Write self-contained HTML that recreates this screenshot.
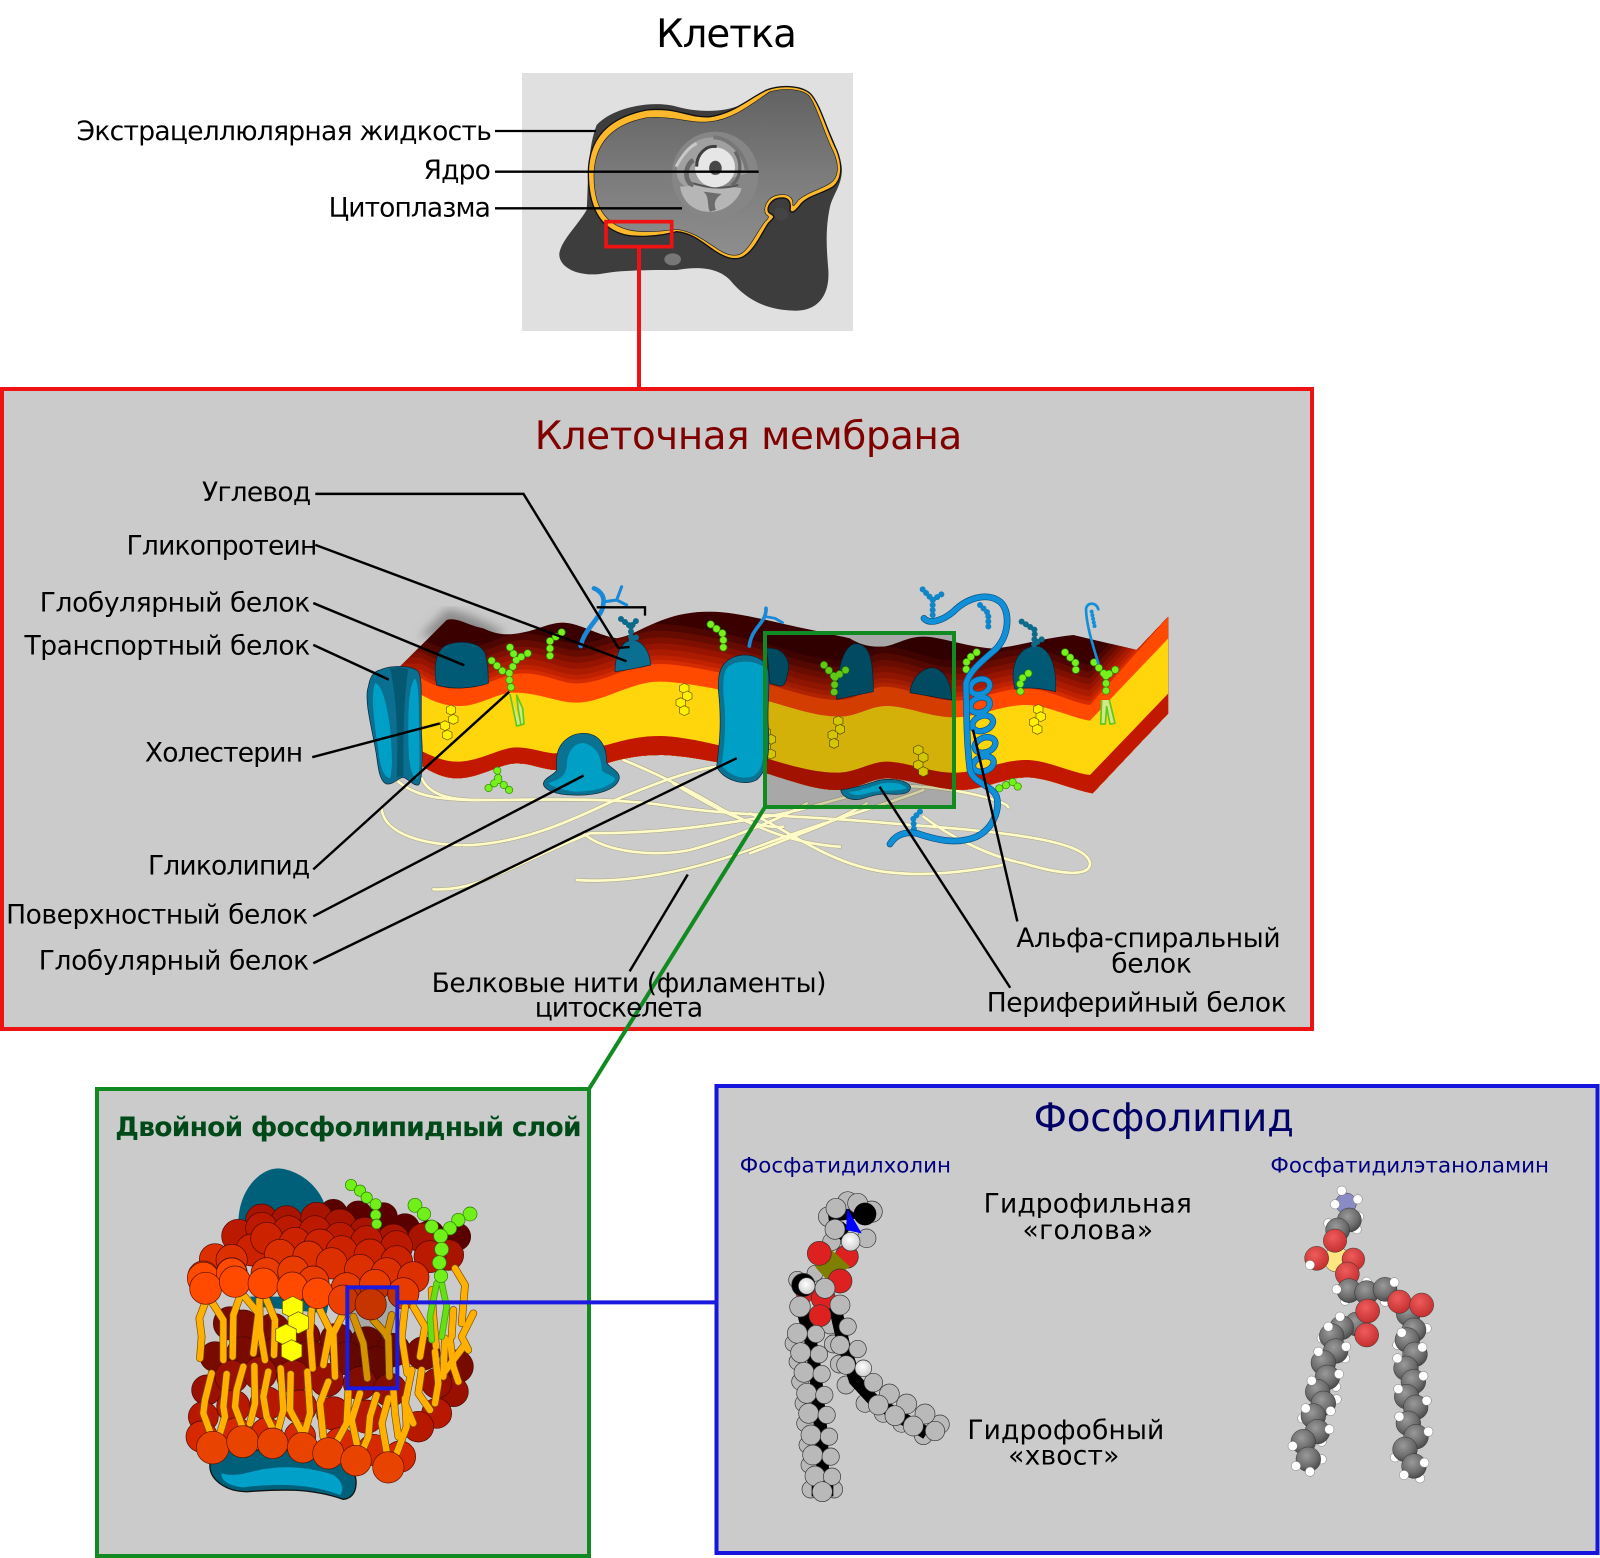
<!DOCTYPE html>
<html lang="ru"><head><meta charset="utf-8"><title>Клетка</title>
<style>
html,body{margin:0;padding:0;background:#fff}
svg{display:block}
text{font-family:"DejaVu Sans","Liberation Sans",sans-serif;fill:#000}
.l{font-size:26px}
.ln{stroke:#000;stroke-width:2.4;fill:none}
.d{fill:none;stroke-linecap:round}
</style></head><body>
<svg xmlns="http://www.w3.org/2000/svg" width="1600" height="1558" viewBox="0 0 1600 1558">
<defs>
<linearGradient id="cy" x1="0" y1="0" x2="0" y2="1"><stop offset="0" stop-color="#626262"/><stop offset=".55" stop-color="#7d7d7d"/><stop offset="1" stop-color="#8e8e8e"/></linearGradient>
<radialGradient id="cg" cx=".42" cy=".35" r=".7"><stop offset="0" stop-color="#9a9a9a"/><stop offset=".6" stop-color="#6e6e6e"/><stop offset="1" stop-color="#444"/></radialGradient>
<radialGradient id="cr" cx=".42" cy=".35" r=".7"><stop offset="0" stop-color="#ee5c5c"/><stop offset="1" stop-color="#c22c2c"/></radialGradient>
<radialGradient id="cw" cx=".45" cy=".4" r=".65"><stop offset="0" stop-color="#fff"/><stop offset="1" stop-color="#c8c8c8"/></radialGradient>
<filter id="bl"><feGaussianBlur stdDeviation="14"/></filter>
<polygon id="hx" points="0,-15 14,-8 14,8 0,15 -14,8 -14,-8"/>
<path id="pO" d="M245,325 C290,355 330,358 370,355 C440,350 490,310 550,310 C620,310 670,345 720,340 C800,335 870,282 960,282 C1040,282 1200,320 1290,345 C1360,365 1430,390 1500,390 C1550,390 1590,350 1630,350 C1700,350 1770,392 1840,392 C1920,392 1980,355 2060,355 C2120,355 2200,400 2250,405 L2485,140 L2485,1000 L120,1000 L120,325Z"/>
<clipPath id="cTop"><path d="M180,290 L320,150 C350,140 380,165 430,175 C460,190 490,195 520,192 C590,185 620,158 670,158 C720,160 770,195 830,205 C900,195 960,125 1110,125 C1200,125 1330,165 1440,185 C1480,195 1510,200 1530,205 C1570,230 1600,230 1630,230 C1670,225 1700,200 1750,200 C1800,200 1880,230 1950,235 C2000,238 2100,205 2200,195 L2390,240 L2485,140 L2485,1000 L180,1000Z"/></clipPath>
<clipPath id="cBot"><path d="M170,560 L248,590 C290,615 320,625 350,625 C420,625 480,580 530,580 C570,580 600,595 640,600 C680,600 750,590 800,580 C850,565 900,555 960,555 C1040,555 1180,585 1280,610 C1360,635 1430,660 1490,660 C1550,660 1590,625 1640,625 C1700,625 1790,660 1870,660 C1940,655 2000,622 2060,622 C2120,622 2200,660 2258,670 L2485,430 L2485,0 L170,0Z"/></clipPath>
<g id="gl" class="d" stroke-dasharray="0 22">
<path d="M510,232 L530,268 L505,315 L513,352"/><path d="M455,272 L500,315"/><path d="M563,250 L530,268"/>
<path d="M665,187 L630,213 L630,265"/><path d="M1112,163 L1150,192 L1150,238"/>
<path d="M472,602 L475,630 L438,660"/><path d="M475,630 L513,665"/>
<path d="M1452,285 L1485,322 L1520,298"/><path d="M1485,322 L1482,375"/>
<path d="M1910,247 L1880,270 L1878,315"/><path d="M2065,310 L2040,330 L2042,380"/>
<path d="M2175,247 L2208,280 L2207,318"/><path d="M2262,277 L2298,318 L2342,288"/><path d="M2298,318 L2298,378"/>
<path d="M1978,655 L2020,635 L2047,665"/>
</g>
<g id="fil" fill="none" stroke-linecap="round">
<path d="M175,635 C230,680 300,690 420,690 C600,690 820,680 1000,710 C1200,740 1400,735 1650,760 C1900,780 2240,800 2250,880 C2250,925 2150,910 2050,880 C1950,860 1830,800 1750,740"/>
<path d="M245,625 C270,680 340,690 420,690"/>
<path d="M125,715 C130,790 250,830 400,825 C600,810 750,720 850,680 C950,640 1050,600 1130,590"/>
<path d="M850,570 C950,610 1050,660 1150,720 C1250,770 1350,820 1500,830"/>
<path d="M280,958 C420,965 520,880 750,790 C950,790 1100,770 1280,740 C1400,720 1500,680 1650,650 C1800,640 2000,690 2005,712"/>
<path d="M710,930 C850,940 1050,910 1280,820 C1500,740 1650,700 1750,660"/>
<path d="M730,790 C800,850 950,860 1050,840 C1200,800 1350,730 1400,700"/>
<path d="M1230,730 C1330,770 1460,880 1630,905 C1780,925 1930,895 1990,885"/>
<path d="M1230,850 C1330,810 1480,760 1580,700"/>
<path d="M1000,640 C1100,700 1230,780 1330,770"/>
</g>
<g id="tl" fill="none" stroke-linecap="round" stroke-linejoin="round">
<path d="M135,460 L118,505 L125,560 L120,625"/><path d="M155,455 L190,510 L190,630"/><path d="M238,445 L220,495 L218,620"/><path d="M250,435 L295,490 L280,610"/><path d="M298,450 L300,540 L315,630"/><path d="M320,450 L345,510 L342,615"/>
<path d="M455,480 L450,550 L458,655"/><path d="M480,480 L510,540 L490,645"/><path d="M545,500 L520,550 L525,680"/><path d="M580,500 L610,580 L622,685"/><path d="M640,510 L685,560 L688,680"/><path d="M695,495 L680,560"/>
<path d="M735,470 L725,560 L742,670"/><path d="M760,470 L795,530 L780,620"/><path d="M815,420 L820,500 L828,590"/><path d="M885,355 L915,405 L905,520"/><path d="M880,480 L875,560"/><path d="M940,490 L905,560 L925,600"/>
<path d="M155,670 L135,750 L130,790 L150,845"/><path d="M200,672 L190,770 L195,800 L180,850"/><path d="M250,650 L230,720 L225,770 L245,825"/><path d="M283,648 L285,760 L270,820"/><path d="M325,665 L310,740 L320,800 L335,830"/><path d="M362,655 L370,780 L355,835"/><path d="M392,672 L390,780 L425,845"/><path d="M442,665 L450,790 L435,845"/><path d="M505,695 L480,760 L490,860"/><path d="M565,725 L560,820 L530,875"/><path d="M600,730 L575,810 L590,880"/><path d="M650,735 L630,800 L625,860 L610,895"/><path d="M685,745 L665,820 L680,905"/><path d="M700,720 L705,790 L715,860"/><path d="M735,745 L740,830 L710,910"/><path d="M755,660 L735,760 L760,820"/><path d="M785,660 L775,730 L810,780"/><path d="M825,605 L835,700 L825,760"/><path d="M855,565 L850,680"/><path d="M910,590 L850,670"/><path d="M870,570 L880,650 L895,695"/>
</g>
</defs>
<rect width="1600" height="1558" fill="#fff"/>

<!-- top cell -->
<rect x="522" y="73" width="331" height="258" fill="#e0e0e0"/>
<g transform="translate(480,50) scale(.33333)">
<path d="M350,225 C400,170 520,150 590,170 C660,190 740,185 780,165 C820,145 860,115 920,112 C980,110 1000,130 1020,180 C1050,250 1080,310 1085,350 C1090,400 1060,430 1050,470 C1035,540 1040,600 1045,660 C1050,740 1010,785 940,782 C850,780 790,740 750,690 C710,650 650,650 590,660 C500,660 420,660 360,672 C290,680 235,650 238,610 C245,570 290,530 320,480 C325,420 320,300 350,225Z" fill="#3d3d3d"/>
<path d="M325,370 C325,280 370,205 500,180 C590,170 630,205 690,200 C760,190 800,150 860,120 C900,105 960,105 990,130 C1020,160 1040,240 1070,300 C1090,350 1085,390 1060,410 C1030,430 990,435 965,460 C950,480 935,495 930,480 C935,450 920,440 895,445 C870,450 855,480 870,490 C890,500 880,505 865,520 C845,550 825,600 790,620 C760,635 730,620 700,600 C670,580 640,550 590,545 C540,560 460,565 420,550 C360,530 325,470 325,370Z" fill="#fdb92b" stroke="#111" stroke-width="4"/>
<path d="M342,370 C345,290 385,225 500,203 C590,198 630,222 690,215 C760,208 810,165 870,125 C910,115 960,115 985,135 C1010,165 1030,245 1060,305 C1080,350 1075,385 1050,400 C1020,420 985,425 955,450 C945,465 940,470 938,465 C942,440 920,430 895,435 C860,440 845,480 860,495 C870,500 865,505 855,515 C835,540 810,595 785,610 C760,625 730,610 705,592 C670,570 640,545 590,538 C540,545 470,550 430,535 C375,515 340,470 342,370Z" fill="url(#cy)" stroke="#222" stroke-width="2"/>
<circle cx="705" cy="375" r="130" fill="#868686"/>
<path d="M590,370 C590,310 640,260 700,262 C760,265 800,310 800,370 L640,420 C610,410 592,395 590,370Z" fill="#a0a0a0"/>
<path d="M600,410 C610,470 660,490 700,485 C740,480 775,450 785,415 C740,405 650,405 600,410Z" fill="#b6b6b6"/>
<path d="M670,425 C690,440 680,470 690,485 L708,480 C700,460 705,445 725,432Z" fill="#6c6c6c"/>
<path d="M640,400 C670,410 720,420 775,405" fill="none" stroke="#555" stroke-width="6"/>
<path d="M640,330 C610,350 615,400 640,405" fill="none" stroke="#6a6a6a" stroke-width="14"/>
<path d="M700,262 C740,262 790,300 800,360" fill="none" stroke="#777" stroke-width="12"/>
<path d="M765,305 C790,340 780,390 755,405" fill="none" stroke="#666" stroke-width="10"/>
<path d="M588,350 C610,310 630,290 650,280" fill="none" stroke="#c8c8c8" stroke-width="9"/>
<circle cx="705" cy="352" r="60" fill="#e6e6e6"/>
<path d="M650,350 C650,310 680,285 710,290" fill="none" stroke="#3e3e3e" stroke-width="9"/>
<path d="M688,350 C690,335 705,328 715,335 C730,345 728,370 712,374 C695,378 685,365 688,350Z" fill="#484848"/>
<ellipse cx="578" cy="628" rx="25" ry="18" fill="#777"/>
<path d="M885,480 C900,465 925,475 925,500 C915,515 895,515 885,500Z" fill="#444"/>
<path d="M45,243 H348 M45,365 H836 M45,475 H606" stroke="#000" stroke-width="7" fill="none"/>
<rect x="378" y="515" width="197" height="75" fill="none" stroke="#ee1212" stroke-width="11"/>
</g>
<path d="M639,247 V389" stroke="#ee1212" stroke-width="4" fill="none"/>

<!-- panels -->
<rect x="2" y="389" width="1310" height="640" fill="#cbcbcb" stroke="#ee1212" stroke-width="4"/>
<rect x="97" y="1089" width="492" height="467" fill="#cbcbcb" stroke="#118a22" stroke-width="4"/>
<rect x="716.5" y="1086" width="881" height="467" fill="#cbcbcb" stroke="#1515dd" stroke-width="4"/>

<!-- membrane -->
<g transform="translate(340,570) scale(.33333)">
<path d="M320,118 L240,200 L440,210 L500,190 C440,160 380,125 320,118Z" fill="#8a8a8a" filter="url(#bl)"/>
<use href="#fil" stroke="#a8a680" stroke-width="11"/>
<use href="#fil" stroke="#fffbc8" stroke-width="8"/>
<g clip-path="url(#cBot)">
<g clip-path="url(#cTop)">
<rect x="120" y="100" width="2370" height="700" fill="#3a0000"/>
<use href="#pO" y="-120" fill="#4d0600"/><use href="#pO" y="-100" fill="#650b00"/><use href="#pO" y="-80" fill="#7f1000"/><use href="#pO" y="-62" fill="#971500"/><use href="#pO" y="-44" fill="#ab1b00"/><use href="#pO" y="-26" fill="#c02200"/><use href="#pO" y="-12" fill="#d42b00"/>
<use href="#pO" fill="#ff4a00"/>
</g>
<path d="M245,375 C290,400 320,408 360,408 C420,408 470,368 520,368 C600,368 650,398 710,398 C790,398 870,335 960,335 C1040,335 1200,370 1290,395 C1360,415 1430,440 1500,440 C1550,440 1590,408 1640,408 C1700,408 1770,442 1840,442 C1920,442 1980,405 2060,405 C2120,405 2200,445 2250,452 L2485,205 L2485,1000 L245,1000Z" fill="#ffd50c"/>
<path d="M248,545 C290,565 320,575 350,575 C420,575 480,532 530,532 C570,532 600,545 640,550 C680,550 750,535 800,525 C850,510 900,498 960,498 C1040,498 1180,535 1280,565 C1360,590 1430,608 1490,608 C1550,608 1590,575 1640,575 C1700,575 1770,608 1840,608 C1920,608 1980,570 2060,570 C2120,570 2200,610 2250,615 L2485,370 L2485,1000 L248,1000Z" fill="#c21800"/>
</g>
<!-- embedded dark proteins -->
<g fill="#005a76" stroke="#123" stroke-width="2">
<path d="M290,345 C280,300 285,240 320,225 C360,210 420,215 435,250 C445,280 445,320 445,340 C400,355 340,360 290,345Z"/>
<path d="M825,305 C825,260 840,215 875,210 C910,210 930,250 932,285 C890,295 860,300 825,305Z" fill="#0b6f91"/>
<path d="M1280,235 C1330,230 1350,270 1345,300 C1340,330 1335,350 1320,348 L1290,340Z"/>
<path d="M1490,388 C1490,330 1500,240 1540,222 C1590,215 1600,270 1600,365Z"/>
<path d="M1710,368 C1715,320 1750,292 1780,293 C1815,300 1835,340 1835,390Z"/>
<path d="M2025,358 C2010,300 2025,240 2080,228 C2130,225 2150,290 2147,365 C2110,355 2060,350 2025,358Z"/>
</g>
<!-- cholesterol -->
<g fill="#fff000" stroke="#665500" stroke-width="2">
<use href="#hx" x="333" y="420"/><use href="#hx" x="340" y="448"/><use href="#hx" x="315" y="467"/><use href="#hx" x="322" y="495"/>
<use href="#hx" x="1033" y="355"/><use href="#hx" x="1042" y="378"/><use href="#hx" x="1022" y="398"/><use href="#hx" x="1033" y="422"/>
<use href="#hx" x="1278" y="487"/><use href="#hx" x="1293" y="508"/><use href="#hx" x="1278" y="530"/><use href="#hx" x="1292" y="552"/>
<use href="#hx" x="1495" y="453"/><use href="#hx" x="1500" y="478"/><use href="#hx" x="1478" y="495"/><use href="#hx" x="1482" y="520"/>
<use href="#hx" x="1735" y="540"/><use href="#hx" x="1750" y="562"/><use href="#hx" x="1735" y="585"/><use href="#hx" x="1750" y="605"/>
<use href="#hx" x="2095" y="418"/><use href="#hx" x="2102" y="440"/><use href="#hx" x="2082" y="457"/><use href="#hx" x="2092" y="478"/>
</g>
<!-- green glycans -->
<g fill="#cfe88a" stroke="#5fc81a" stroke-width="5" stroke-linejoin="round">
<path d="M510,372 L520,420 L530,468 L543,465 L535,420 L530,375 L548,415 L552,462 L543,465"/>
<path d="M2285,390 L2282,462 L2296,462 L2300,410 L2310,462 L2325,460 L2308,390"/>
</g>
<use href="#gl" stroke="#2a8a00" stroke-width="24"/>
<use href="#gl" stroke="#78f01c" stroke-width="20"/>
<!-- box darkening -->
<rect x="1275" y="189" width="567" height="522" fill="#000" opacity=".17"/>
<!-- teal glycans -->
<g stroke="#0e6a8a" stroke-width="18" stroke-dasharray="0 15" class="d">
<path d="M843,147 L873,170 L895,145"/><path d="M873,170 L873,212 L900,195"/>
<path d="M2045,155 L2085,180 L2082,225"/><path d="M2105,208 L2082,222"/>
</g>
<!-- left channel -->
<path d="M120,300 C150,285 215,285 235,305 C250,330 240,400 245,500 C250,570 245,640 235,645 C220,648 210,630 190,622 C170,625 160,645 140,642 C120,635 115,600 110,560 C100,490 70,390 85,350 C90,320 100,305 120,300Z" fill="#0a6f90" stroke="#123" stroke-width="2"/>
<path d="M105,340 C125,340 140,400 150,470 C155,540 160,590 150,625 C130,620 120,590 115,540 C105,470 90,380 105,340Z" fill="#00a0c6"/>
<path d="M225,325 C240,345 235,430 238,510 C240,570 238,620 232,628 C215,620 205,590 205,500 C205,420 205,350 225,325Z" fill="#00a0c6"/>
<path d="M150,295 C170,290 190,292 205,298 C190,380 190,520 190,620 L170,622 C175,500 170,380 150,295Z" fill="#055872"/>
<!-- bump protein -->
<path d="M650,570 C650,520 690,490 730,490 C780,490 800,530 800,575 C800,590 840,600 838,625 C830,660 770,678 700,675 C650,675 610,660 610,640 C615,620 645,615 650,600Z" fill="#0a7393" stroke="#123" stroke-width="2"/>
<path d="M680,590 C680,550 700,515 735,520 C770,530 785,560 785,600 C795,615 825,615 825,630 C800,655 760,665 700,665 C670,660 640,650 625,640 C650,630 675,625 680,590Z" fill="#009fc5"/>
<!-- big protein -->
<path d="M1150,285 C1180,245 1250,245 1280,285 C1295,320 1280,400 1285,470 C1290,540 1285,600 1250,630 C1210,650 1150,630 1130,590 C1140,510 1145,450 1135,360 C1135,330 1135,305 1150,285Z" fill="#0a7393" stroke="#123" stroke-width="2"/>
<path d="M1165,290 C1190,270 1240,270 1270,290 C1280,350 1265,430 1272,500 C1272,560 1270,600 1240,618 C1205,632 1165,615 1145,585 C1155,510 1160,450 1150,370 C1150,330 1150,305 1165,290Z" fill="#00a0c6"/>
<!-- peripheral -->
<path d="M1502,660 C1540,655 1570,645 1620,630 C1660,625 1700,630 1712,650 C1712,670 1690,675 1650,672 C1610,670 1590,680 1560,688 C1530,692 1505,680 1502,660Z" fill="#0a7393" stroke="#123" stroke-width="2"/>
<path d="M1525,665 C1560,665 1590,650 1625,640 C1660,635 1690,640 1700,655 C1670,665 1620,660 1590,668 C1560,678 1535,678 1525,665Z" fill="#009fc5"/>
<!-- blue chains -->
<g fill="none" stroke-linecap="round" stroke="#1888d8">
<g stroke-width="14"><path d="M722,228 C735,170 790,140 790,100 C795,75 775,60 762,55"/></g>
<g stroke-width="9"><path d="M795,95 L830,90 L845,50 M830,90 L860,105"/></g>
<g stroke-width="11"><path d="M1228,228 C1235,170 1280,160 1278,115"/></g>
<g stroke-width="8"><path d="M1278,140 L1305,145 L1328,158"/></g>
</g>
<g stroke="#1085c8" stroke-width="18" stroke-dasharray="0 15" class="d">
<path d="M1748,58 L1778,90 L1812,68"/><path d="M1778,90 L1778,140"/>
<path d="M1920,105 L1945,130 L1945,170"/>
<path d="M1740,725 L1720,745 L1722,780"/>
</g>
<!-- helix -->
<g fill="none" stroke-linecap="round">
<g stroke="#0a4f80" stroke-width="19">
<ellipse cx="1930" cy="582" rx="32" ry="22" transform="rotate(-20 1930 582)"/>
<ellipse cx="1935" cy="525" rx="32" ry="22" transform="rotate(-20 1935 525)"/>
<ellipse cx="1928" cy="460" rx="32" ry="22" transform="rotate(-20 1928 460)"/>
<ellipse cx="1920" cy="405" rx="30" ry="22" transform="rotate(-20 1920 405)"/>
<ellipse cx="1920" cy="350" rx="30" ry="22" transform="rotate(-20 1920 350)"/>
</g>
<g stroke="#0f90d8" stroke-width="15">
<ellipse cx="1930" cy="582" rx="32" ry="22" transform="rotate(-20 1930 582)"/>
<ellipse cx="1935" cy="525" rx="32" ry="22" transform="rotate(-20 1935 525)"/>
<ellipse cx="1928" cy="460" rx="32" ry="22" transform="rotate(-20 1928 460)"/>
<ellipse cx="1920" cy="405" rx="30" ry="22" transform="rotate(-20 1920 405)"/>
<ellipse cx="1920" cy="350" rx="30" ry="22" transform="rotate(-20 1920 350)"/>
</g>
<g stroke="#0a4f80" stroke-width="20">
<path d="M1650,822 C1670,790 1700,785 1730,790 C1790,810 1850,825 1910,800 C1960,775 1980,720 1970,680 C1955,645 1900,640 1890,600 C1880,520 1880,440 1878,340 C1890,300 1930,270 1970,235 C2010,190 2010,120 1980,95 C1940,65 1880,85 1840,125 C1810,150 1770,165 1752,145"/>
</g>
<g stroke="#0f90d8" stroke-width="16">
<path d="M1650,822 C1670,790 1700,785 1730,790 C1790,810 1850,825 1910,800 C1960,775 1980,720 1970,680 C1955,645 1900,640 1890,600 C1880,520 1880,440 1878,340 C1890,300 1930,270 1970,235 C2010,190 2010,120 1980,95 C1940,65 1880,85 1840,125 C1810,150 1770,165 1752,145"/>
</g>
<path d="M2275,280 C2260,230 2240,170 2238,120 C2238,95 2270,95 2275,118" stroke="#0f90d8" stroke-width="8"/>
<path d="M2255,125 L2265,175" stroke="#0f90d8" stroke-width="12" stroke-dasharray="0 11"/>
</g>
<rect x="1275" y="189" width="567" height="522" fill="none" stroke="#118a22" stroke-width="12"/>
<path d="M1275,711 L747,1557" stroke="#118a22" stroke-width="12" fill="none"/>
<path d="M770,112 H915 V137" stroke="#000" stroke-width="7" fill="none"/>
</g>

<!-- bilayer -->
<g transform="translate(160,1150) scale(.33333)" stroke="#4a0800" stroke-width="2">
<path d="M235,220 C235,120 300,55 355,55 C430,60 500,130 500,200 L500,300 L235,300Z" fill="#00607a" stroke="none"/>
<g fill="#5a0000"><circle cx="520" cy="190" r="42"/><circle cx="595" cy="195" r="42"/><circle cx="670" cy="200" r="42"/><circle cx="735" cy="235" r="44"/><circle cx="810" cy="255" r="44"/><circle cx="890" cy="260" r="42"/></g>
<g fill="#a81400"><circle cx="305" cy="210" r="48"/><circle cx="380" cy="215" r="48"/><circle cx="470" cy="205" r="48"/><circle cx="540" cy="225" r="48"/><circle cx="615" cy="250" r="48"/><circle cx="700" cy="270" r="48"/><circle cx="790" cy="265" r="46"/><circle cx="865" cy="315" r="46"/></g>
<g fill="#bb1a00"><circle cx="235" cy="258" r="50"/><circle cx="305" cy="235" r="48"/><circle cx="385" cy="245" r="48"/><circle cx="465" cy="245" r="48"/><circle cx="540" cy="265" r="48"/><circle cx="620" cy="275" r="48"/><circle cx="710" cy="290" r="48"/><circle cx="810" cy="320" r="48"/></g>
<g fill="#cc2200"><circle cx="275" cy="300" r="48"/><circle cx="320" cy="265" r="48"/><circle cx="405" cy="280" r="48"/><circle cx="480" cy="285" r="48"/><circle cx="545" cy="305" r="48"/><circle cx="630" cy="315" r="48"/><circle cx="710" cy="335" r="48"/></g>
<g fill="#dd3000"><circle cx="165" cy="328" r="47"/><circle cx="215" cy="330" r="47"/><circle cx="360" cy="315" r="47"/><circle cx="445" cy="320" r="47"/><circle cx="515" cy="340" r="47"/><circle cx="600" cy="360" r="47"/><circle cx="680" cy="370" r="47"/><circle cx="760" cy="382" r="47"/></g>
<g fill="#e83c00"><circle cx="130" cy="380" r="47"/><circle cx="215" cy="370" r="47"/><circle cx="320" cy="370" r="47"/><circle cx="400" cy="365" r="47"/><circle cx="460" cy="395" r="47"/><circle cx="560" cy="415" r="47"/><circle cx="645" cy="405" r="47"/><circle cx="730" cy="430" r="47"/></g>
<!-- back lower -->
<g fill="#780a00"><circle cx="210" cy="520" r="50"/><circle cx="250" cy="530" r="50"/><circle cx="340" cy="540" r="50"/><circle cx="430" cy="560" r="50"/><circle cx="530" cy="570" r="50"/><circle cx="620" cy="580" r="50"/><circle cx="700" cy="600" r="50"/><circle cx="790" cy="610" r="50"/><circle cx="890" cy="650" r="50"/><circle cx="165" cy="620" r="45"/><circle cx="250" cy="610" r="50"/><circle cx="350" cy="610" r="50"/><circle cx="450" cy="620" r="50"/><circle cx="560" cy="625" r="50"/><circle cx="650" cy="640" r="50"/></g>
<g fill="#9a1000"><circle cx="140" cy="720" r="45"/><circle cx="215" cy="680" r="50"/><circle cx="300" cy="670" r="50"/><circle cx="400" cy="680" r="50"/><circle cx="500" cy="690" r="50"/><circle cx="600" cy="700" r="50"/><circle cx="690" cy="720" r="50"/><circle cx="880" cy="725" r="45"/><circle cx="830" cy="700" r="45"/></g>
<g fill="#b81800"><circle cx="130" cy="800" r="45"/><circle cx="220" cy="770" r="50"/><circle cx="320" cy="760" r="50"/><circle cx="420" cy="770" r="50"/><circle cx="520" cy="790" r="50"/><circle cx="620" cy="800" r="50"/><circle cx="830" cy="790" r="45"/><circle cx="775" cy="830" r="46"/></g>
<g fill="#d82800"><circle cx="125" cy="860" r="47"/><circle cx="230" cy="850" r="47"/><circle cx="320" cy="850" r="47"/><circle cx="420" cy="860" r="47"/><circle cx="540" cy="880" r="47"/><circle cx="640" cy="900" r="47"/><circle cx="720" cy="920" r="47"/></g>
<path d="M150,940 C145,990 200,1025 260,1025 C340,1020 440,1010 550,1048 C580,1045 590,1020 588,990 C585,950 500,900 400,900 L150,900Z" fill="#00607a" stroke="#111" stroke-width="4"/>
<path d="M185,970 C240,985 270,960 330,955 C400,945 480,960 520,975 C545,990 555,1020 540,1035 C450,1000 340,1000 250,1012 C210,1010 180,990 185,970Z" fill="#00a0c8" stroke="none"/>
<path d="M270,440 L510,440 L500,490 L290,470Z" fill="#00607a" stroke="none"/>
<use href="#tl" stroke="#7a4a00" stroke-width="23"/>
<use href="#tl" stroke="#ffb000" stroke-width="19"/>
<path d="M830,400 L810,500 L815,570 M845,400 L860,470 L845,560" fill="none" stroke="#4aa010" stroke-width="20" stroke-linecap="round"/>
<path d="M830,400 L810,500 L815,570 M845,400 L860,470 L845,560" fill="none" stroke="#66e011" stroke-width="15" stroke-linecap="round"/>
<g fill="#ff4a00" stroke="#5a1000"><circle cx="130" cy="385" r="48"/><circle cx="215" cy="370" r="46"/><circle cx="137" cy="415" r="48"/><circle cx="225" cy="395" r="47"/><circle cx="310" cy="400" r="46"/><circle cx="397" cy="412" r="46"/><circle cx="473" cy="430" r="46"/></g>
<circle cx="550" cy="450" r="45" fill="#ee4000" stroke="#5a1000"/>
<g fill="#ffff00" stroke="#665500" stroke-width="1">
<use href="#hx" transform="translate(398,472) scale(2.2)"/><use href="#hx" transform="translate(415,518) scale(2.2)"/><use href="#hx" transform="translate(378,555) scale(2.2)"/><use href="#hx" transform="translate(395,602) scale(2.2)"/>
</g>
<g fill="#e84400" stroke="#5a1000"><circle cx="158" cy="893" r="49"/><circle cx="248" cy="875" r="48"/><circle cx="338" cy="880" r="46"/><circle cx="428" cy="893" r="46"/><circle cx="505" cy="910" r="47"/><circle cx="588" cy="932" r="46"/><circle cx="685" cy="952" r="47"/></g>
<circle cx="632" cy="463" r="47" fill="#ee4000" stroke="#5a1000"/>
<g fill="#70f018" stroke="#2a7a00">
<circle cx="573" cy="105" r="17"/><circle cx="600" cy="122" r="17"/><circle cx="620" cy="143" r="17"/><circle cx="647" cy="163" r="17"/><circle cx="647" cy="195" r="16"/><circle cx="650" cy="222" r="15"/>
<circle cx="765" cy="166" r="21"/><circle cx="792" cy="192" r="20"/><circle cx="815" cy="230" r="20"/><circle cx="930" cy="192" r="21"/><circle cx="895" cy="210" r="20"/><circle cx="870" cy="235" r="20"/><circle cx="842" cy="258" r="21"/><circle cx="845" cy="298" r="21"/><circle cx="838" cy="338" r="21"/><circle cx="843" cy="378" r="20"/>
</g>
<rect x="562" y="412" width="150" height="303" fill="#000" opacity=".17" stroke="none"/>
<rect x="562" y="412" width="150" height="303" fill="none" stroke="#1a1ae0" stroke-width="12"/>
<path d="M712,457 H1672" stroke="#1a1ae0" stroke-width="12"/>
</g>

<!-- molecule 1 -->
<g transform="translate(760,1170) scale(.33333)" stroke="#333" stroke-width="2" fill="#b9b9b9">
<g><circle cx="100" cy="520" r="25"/><circle cx="112" cy="575" r="25"/><circle cx="120" cy="635" r="25"/><circle cx="130" cy="700" r="25"/><circle cx="135" cy="760" r="25"/><circle cx="142" cy="825" r="25"/><circle cx="148" cy="885" r="25"/><circle cx="152" cy="958" r="26"/><circle cx="222" cy="958" r="26"/><circle cx="220" cy="522" r="27"/><circle cx="238" cy="582" r="27"/><circle cx="258" cy="645" r="27"/><circle cx="315" cy="700" r="27"/><circle cx="370" cy="730" r="27"/><circle cx="425" cy="760" r="27"/><circle cx="490" cy="797" r="27"/><circle cx="540" cy="763" r="28"/><circle cx="205" cy="140" r="30"/><circle cx="263" cy="95" r="30"/><circle cx="335" cy="125" r="32"/><circle cx="320" cy="205" r="28"/><circle cx="215" cy="215" r="27"/><circle cx="165" cy="310" r="24"/><circle cx="112" cy="330" r="26"/><circle cx="210" cy="465" r="27"/></g>
<path d="M130,430 L150,500 L165,600 L175,700 L185,800 L190,960 M225,410 L250,520 L285,630 L340,690 L500,790 M155,960 L220,960" fill="none" stroke="#000" stroke-width="38"/>
<path d="M205,140 L290,130 M230,200 L260,165" fill="none" stroke="#000" stroke-width="32"/>
<circle cx="135" cy="372" r="27" fill="#dd2020" stroke="none"/>
<circle cx="260" cy="260" r="35" fill="#dd2020"/>
<polygon points="165,290 215,240 270,290 205,335" fill="#808000" stroke="none"/>
<circle cx="178" cy="250" r="36" fill="#dd2020"/><circle cx="240" cy="333" r="36" fill="#dd2020"/><circle cx="190" cy="385" r="36" fill="#dd2020"/>
<circle cx="195" cy="355" r="30"/><circle cx="130" cy="345" r="35" fill="#000"/>
<circle cx="120" cy="410" r="31"/><circle cx="240" cy="405" r="30"/><circle cx="180" cy="437" r="33" fill="#dd2020"/>
<g><circle cx="112" cy="490" r="30"/><circle cx="122" cy="548" r="30"/><circle cx="132" cy="607" r="30"/><circle cx="140" cy="670" r="30"/><circle cx="146" cy="730" r="30"/><circle cx="153" cy="795" r="30"/><circle cx="158" cy="855" r="30"/><circle cx="165" cy="918" r="30"/><circle cx="168" cy="492" r="26"/><circle cx="177" cy="553" r="26"/><circle cx="185" cy="612" r="26"/><circle cx="193" cy="675" r="26"/><circle cx="200" cy="735" r="26"/><circle cx="207" cy="800" r="26"/><circle cx="212" cy="860" r="26"/><circle cx="216" cy="920" r="26"/><circle cx="187" cy="965" r="30"/>
<circle cx="263" cy="470" r="26"/><circle cx="240" cy="525" r="28"/><circle cx="293" cy="537" r="26"/><circle cx="258" cy="585" r="28"/><circle cx="340" cy="638" r="28"/><circle cx="388" cy="672" r="30"/><circle cx="440" cy="702" r="30"/><circle cx="495" cy="732" r="30"/><circle cx="525" cy="783" r="29"/><circle cx="460" cy="768" r="30"/><circle cx="405" cy="737" r="30"/><circle cx="355" cy="705" r="30"/></g>
<circle cx="228" cy="115" r="30"/><circle cx="293" cy="100" r="30"/><circle cx="225" cy="178" r="30"/>
<polygon points="262,115 305,190 258,180" fill="#0000ff" stroke="none"/>
<circle cx="315" cy="132" r="34" fill="#000" stroke="none"/>
<circle cx="272" cy="215" r="28" fill="url(#cw)"/><circle cx="140" cy="348" r="25" fill="url(#cw)"/><circle cx="310" cy="595" r="25" fill="url(#cw)"/>
</g>

<!-- molecule 2 -->
<g transform="translate(1270,1170) scale(.33333)" stroke="#333" stroke-width="1.5">
<g fill="#fff" stroke="#777"><circle cx="267" cy="140" r="14"/><circle cx="260" cy="178" r="14"/><circle cx="175" cy="160" r="14"/><circle cx="225" cy="392" r="14"/><circle cx="290" cy="335" r="14"/><circle cx="345" cy="395" r="14"/><circle cx="155" cy="505" r="14"/><circle cx="225" cy="565" r="14"/><circle cx="198" cy="650" r="14"/><circle cx="200" cy="688" r="14"/><circle cx="97" cy="745" r="14"/><circle cx="155" cy="815" r="14"/><circle cx="155" cy="868" r="14"/><circle cx="375" cy="862" r="14"/><circle cx="450" cy="925" r="14"/><circle cx="388" cy="740" r="14"/><circle cx="470" cy="692" r="14"/><circle cx="382" cy="525" r="14"/><circle cx="460" cy="618" r="14"/><circle cx="470" cy="475" r="14"/></g>
<circle cx="228" cy="100" r="31" fill="#8a8ac4"/>
<g fill="url(#cg)"><circle cx="238" cy="150" r="36"/><circle cx="203" cy="180" r="36"/></g>
<circle cx="200" cy="268" r="38" fill="#ffe680"/>
<g fill="url(#cr)"><circle cx="140" cy="265" r="36"/><circle cx="250" cy="268" r="34"/><circle cx="195" cy="212" r="35"/><circle cx="232" cy="312" r="36"/></g>
<g fill="url(#cg)"><circle cx="237" cy="362" r="36"/><circle cx="290" cy="368" r="36"/><circle cx="345" cy="358" r="36"/><circle cx="260" cy="462" r="36"/><circle cx="215" cy="473" r="36"/><circle cx="185" cy="498" r="37"/><circle cx="197" cy="543" r="37"/><circle cx="160" cy="578" r="37"/><circle cx="172" cy="622" r="37"/><circle cx="143" cy="665" r="37"/><circle cx="160" cy="700" r="37"/><circle cx="130" cy="738" r="37"/><circle cx="142" cy="785" r="37"/><circle cx="100" cy="815" r="37"/><circle cx="115" cy="868" r="37"/><circle cx="415" cy="432" r="36"/><circle cx="432" cy="480" r="36"/><circle cx="412" cy="510" r="37"/><circle cx="435" cy="553" r="37"/><circle cx="408" cy="595" r="37"/><circle cx="430" cy="635" r="37"/><circle cx="410" cy="680" r="37"/><circle cx="437" cy="712" r="37"/><circle cx="415" cy="760" r="37"/><circle cx="438" cy="800" r="37"/><circle cx="405" cy="838" r="37"/><circle cx="432" cy="888" r="37"/></g>
<g fill="url(#cr)"><circle cx="293" cy="423" r="36"/><circle cx="290" cy="495" r="36"/><circle cx="388" cy="395" r="35"/><circle cx="455" cy="405" r="36"/></g>
<g fill="#fff" stroke="#777"><circle cx="215" cy="62" r="14"/><circle cx="195" cy="103" r="14"/><circle cx="263" cy="88" r="14"/><circle cx="120" cy="285" r="14"/><circle cx="200" cy="358" r="14"/><circle cx="373" cy="337" r="14"/><circle cx="210" cy="440" r="14"/><circle cx="175" cy="470" r="14"/><circle cx="228" cy="530" r="14"/><circle cx="145" cy="545" r="14"/><circle cx="207" cy="612" r="14"/><circle cx="125" cy="632" r="14"/><circle cx="107" cy="715" r="14"/><circle cx="182" cy="723" r="14"/><circle cx="178" cy="778" r="14"/><circle cx="68" cy="828" r="14"/><circle cx="78" cy="888" r="14"/><circle cx="120" cy="905" r="14"/><circle cx="463" cy="878" r="14"/><circle cx="402" cy="915" r="14"/><circle cx="475" cy="785" r="14"/><circle cx="388" cy="740" r="14"/><circle cx="470" cy="692" r="14"/><circle cx="385" cy="657" r="14"/><circle cx="460" cy="618" r="14"/><circle cx="382" cy="565" r="14"/><circle cx="457" cy="532" r="14"/><circle cx="395" cy="488" r="14"/></g>
</g>

<!-- leader lines and text (display scale) -->
<g transform="scale(1.02041)">
<g class="ln">
<path d="M309,484 H513 L606,635 L617,634"/>
<path d="M309,534 L614,648"/>
<path d="M307,591 L455,652"/>
<path d="M307,632 L381,666"/>
<path d="M306,742 L431,709"/>
<path d="M307,852 L499,678"/>
<path d="M307,898 L572,760"/>
<path d="M307,944 L722,743"/>
<path d="M617,952 L674,857"/>
<path d="M997,903 L953.5,715"/>
<path d="M990,968 L862,771"/>
</g>
<g transform="translate(0,-.8)">
<text x="643" y="47" font-size="38" textLength="138">Клетка</text>
<text class="l" x="75" y="138" textLength="407">Экстрацеллюлярная жидкость</text>
<text class="l" x="415" y="176" textLength="66">Ядро</text>
<text class="l" x="322" y="213" textLength="159">Цитоплазма</text>
<text x="524" y="441" font-size="38" textLength="419" style="fill:#800000">Клеточная мембрана</text>
<text class="l" x="198" y="492" textLength="107">Углевод</text>
<text class="l" x="124" y="544" textLength="187">Гликопротеин</text>
<text class="l" x="39" y="600" textLength="265">Глобулярный белок</text>
<text class="l" x="24" y="642" textLength="280">Транспортный белок</text>
<text class="l" x="142" y="747" textLength="155">Холестерин</text>
<text class="l" x="145" y="858" textLength="159">Гликолипид</text>
<text class="l" x="6" y="906" textLength="296">Поверхностный белок</text>
<text class="l" x="38" y="951" textLength="265">Глобулярный белок</text>
<text class="l" x="423" y="973" textLength="387">Белковые нити (филаменты)</text>
<text class="l" x="524" y="997" textLength="165">цитоскелета</text>
<text class="l" x="996" y="929" textLength="259">Альфа-спиральный</text>
<text class="l" x="1089" y="954" textLength="79">белок</text>
<text class="l" x="967" y="992" textLength="294">Периферийный белок</text>
<text x="113" y="1114" font-size="26" font-weight="bold" textLength="457" style="fill:#004a1a">Двойной фосфолипидный слой</text>
<text x="1013" y="1109" font-size="38" textLength="255" style="fill:#000066">Фосфолипид</text>
<text x="725" y="1150" font-size="21" textLength="207" style="fill:#000080">Фосфатидилхолин</text>
<text x="1245" y="1150" font-size="21" textLength="273" style="fill:#000080">Фосфатидилэтаноламин</text>
<text class="l" x="964" y="1189" textLength="204">Гидрофильная</text>
<text class="l" x="1002" y="1215" textLength="128">«голова»</text>
<text class="l" x="948" y="1411" textLength="193">Гидрофобный</text>
<text class="l" x="988" y="1436" textLength="109">«хвост»</text>
</g>
</g>
</svg>
</body></html>
